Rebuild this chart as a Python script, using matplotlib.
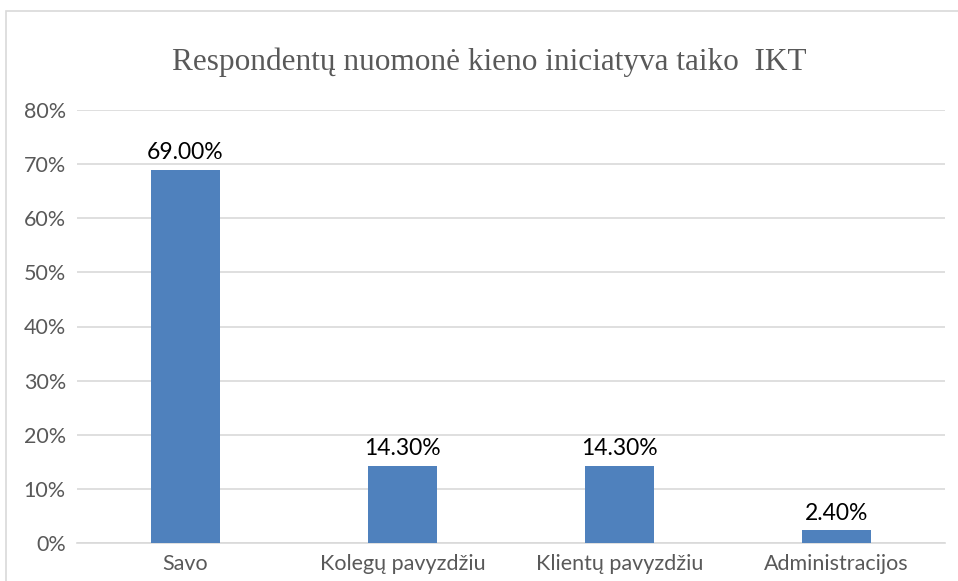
import matplotlib.pyplot as plt
from matplotlib.patches import Rectangle
from matplotlib.ticker import PercentFormatter

categories = ["Savo", "Kolegų pavyzdžiu", "Klientų pavyzdžiu", "Administracijos"]
values = [69.0, 14.3, 14.3, 2.4]
labels = ["69.00%", "14.30%", "14.30%", "2.40%"]

fig = plt.figure(figsize=(9.58, 5.81), dpi=100)
ax = fig.add_axes([77 / 958, 1 - 543 / 581, 868 / 958, 433 / 581])

# chart-area frame
fig.patches.append(Rectangle((6 / 958, -0.1), 1.1, 1 - 11 / 581 + 0.1,
                             transform=fig.transFigure, fill=False,
                             edgecolor="#d9d9d9", linewidth=1.2))

x = range(len(categories))
ax.bar(x, values, width=0.32, color="#4f81bd", zorder=3)
for xi, v, lab in zip(x, values, labels):
    ax.text(xi, v + 1.2, lab, ha="center", va="bottom", fontsize=16.5,
            family="Lato", color="black")

ax.set_xlim(-0.5, len(categories) - 0.5)
ax.set_ylim(0, 80)
ax.set_yticks(range(0, 81, 10))
ax.yaxis.set_major_formatter(PercentFormatter(decimals=0))
ax.set_xticks(list(x))
ax.set_xticklabels(categories)
ax.grid(axis="y", color="#d9d9d9", linewidth=1.2, zorder=0)
for s in ["top", "right", "left"]:
    ax.spines[s].set_visible(False)
ax.spines["bottom"].set_color("#d9d9d9")
ax.spines["bottom"].set_linewidth(1.2)
ax.tick_params(length=0, labelsize=15.5, labelcolor="#595959", pad=8)
for t in ax.get_xticklabels() + ax.get_yticklabels():
    t.set_family("Lato")

fig.text(489 / 958, 1 - 62 / 581, "Respondentų nuomonė kieno iniciatyva taiko  IKT",
         ha="center", va="center", fontsize=22.5, family="Liberation Serif",
         color="#595959")

fig.savefig("out.png", dpi=100)
